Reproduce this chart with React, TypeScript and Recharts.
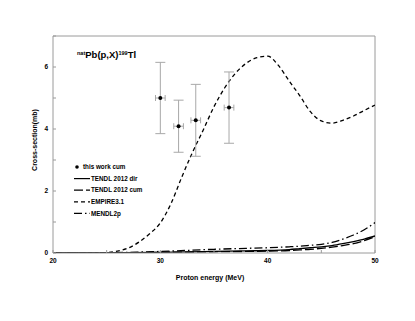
import {
  ComposedChart,
  Line,
  Scatter,
  ErrorBar,
  XAxis,
  YAxis,
  Legend,
  ReferenceLine,
} from "recharts";

const FONT = "'Liberation Sans', Arial, sans-serif";
const AXIS_GREY = "#9a9a9a";

// measured points, this work (cumulative)
const expEnergy = [30.0, 31.7, 33.3, 36.4];
const expValue = [5.0, 4.09, 4.28, 4.69];
const expErrY = [1.15, 0.84, 1.16, 1.15];
const expErrX = [0.45, 0.45, 0.45, 0.45];

// model curves
const empireEnergy = [20, 24, 25, 26, 27, 28, 29, 30, 31, 32, 33, 34, 35, 36, 37, 38, 39, 40, 41, 42, 43, 44, 45, 46, 47, 48, 49, 50];
const empireValue = [0, 0, 0.01, 0.06, 0.16, 0.35, 0.62, 0.97, 1.6, 2.45, 3.25, 3.97, 4.72, 5.33, 5.8, 6.12, 6.3, 6.35, 6.05, 5.55, 5.07, 4.55, 4.26, 4.19, 4.28, 4.42, 4.6, 4.77];

const lowEnergy = [20, 25, 30, 35, 38, 40, 42, 43, 44, 45, 46, 47, 48, 49, 50];
const tendlDir = [0, 0.005, 0.02, 0.05, 0.07, 0.08, 0.11, 0.14, 0.17, 0.2, 0.24, 0.3, 0.37, 0.45, 0.55];
const tendlCum = [0, 0.004, 0.02, 0.04, 0.05, 0.06, 0.08, 0.1, 0.12, 0.15, 0.19, 0.24, 0.3, 0.4, 0.52];
const mendl2p = [0, 0.01, 0.05, 0.12, 0.15, 0.17, 0.2, 0.22, 0.25, 0.28, 0.34, 0.45, 0.58, 0.75, 0.98];

const xTicks = [20, 25, 30, 35, 40, 45, 50];
const yTicks = [0, 1, 2, 3, 4, 5, 6, 7];

const expData = expEnergy.map((x, i) => ({ x, y: expValue[i], ey: expErrY[i], ex: expErrX[i] }));
const empireData = empireEnergy.map((x, i) => ({ x, v: empireValue[i] }));
const dirData = lowEnergy.map((x, i) => ({ x, v: tendlDir[i] }));
const cumData = lowEnergy.map((x, i) => ({ x, v: tendlCum[i] }));
const mendlData = lowEnergy.map((x, i) => ({ x, v: mendl2p[i] }));

const legendRows = [
  { label: "this work cum", dash: null },
  { label: "TENDL 2012 dir", dash: "" },
  { label: "TENDL 2012 cum", dash: "9 3" },
  { label: "EMPIRE3.1", dash: "4 3" },
  { label: "MENDL2p", dash: "8 3 1.5 3" },
];

const tickStyle = { fontSize: 6.5, fontWeight: 700, fill: "#000", fontFamily: FONT };

function LegendBox() {
  return (
    <svg width={70} height={60} style={{ display: "block" }}>
      {legendRows.map((r, i) => {
        const y = 4 + i * 11.6;
        return (
          <g key={r.label}>
            {r.dash === null ? (
              <circle cx={4} cy={y} r={1.8} fill="#000" />
            ) : (
              <line x1={1} x2={17} y1={y} y2={y} stroke="#000" strokeWidth={1.2} strokeDasharray={r.dash || undefined} />
            )}
            <text x={r.dash === null ? 10 : 18} y={y + 2.2} fontSize={6.3} fontWeight={700} fontFamily={FONT} fill="#000">
              {r.label}
            </text>
          </g>
        );
      })}
    </svg>
  );
}

function dot(props: any) {
  return <circle cx={props.cx} cy={props.cy} r={2} fill="#000" />;
}

export default function App() {
  return (
    <div style={{ position: "absolute", left: 0, top: 0, width: 415, height: 321, background: "#fff" }}>
      <ComposedChart width={415} height={321} margin={{ top: 36, right: 40, bottom: 48, left: 33 }}>
        <XAxis
          type="number"
          dataKey="x"
          domain={[20, 50]}
          ticks={xTicks}
          tickFormatter={(v) => (v % 10 === 0 ? String(v) : "")}
          allowDataOverflow
          height={20}
          stroke={AXIS_GREY}
          tickSize={-3}
          tickMargin={8}
          tick={tickStyle}
          label={{
            value: "Proton  energy (MeV)",
            position: "bottom",
            offset: 2,
            dx: -4,
            style: { fontSize: 7, fontWeight: 700, fill: "#000", fontFamily: FONT },
          }}
        />
        <YAxis
          type="number"
          domain={[0, 7]}
          ticks={yTicks}
          tickFormatter={(v) => (v % 2 === 0 ? String(v) : "")}
          allowDataOverflow
          width={20}
          stroke={AXIS_GREY}
          tickSize={-3}
          tickMargin={8}
          tick={tickStyle}
          label={{
            content: () => (
              <text
                x={35}
                y={140}
                transform="rotate(-90, 35, 140)"
                textAnchor="middle"
                dominantBaseline="middle"
                fontSize={7}
                fontWeight={700}
                fontFamily={FONT}
                fill="#000"
              >
                Cross-section(mb)
              </text>
            ),
          }}
        />
        <ReferenceLine y={7} stroke={AXIS_GREY} ifOverflow="visible" />
        <ReferenceLine x={50} stroke={AXIS_GREY} ifOverflow="visible" />

        <Line data={dirData} dataKey="v" name="TENDL 2012 dir" type="monotone" stroke="#000" strokeWidth={1.3} dot={false} isAnimationActive={false} />
        <Line data={cumData} dataKey="v" name="TENDL 2012 cum" type="monotone" stroke="#000" strokeWidth={1.3} strokeDasharray="9 3" dot={false} isAnimationActive={false} />
        <Line data={empireData} dataKey="v" name="EMPIRE3.1" type="monotone" stroke="#000" strokeWidth={1.3} strokeDasharray="4 3" dot={false} isAnimationActive={false} />
        <Line data={mendlData} dataKey="v" name="MENDL2p" type="monotone" stroke="#000" strokeWidth={1.3} strokeDasharray="8 3 1.5 3" dot={false} isAnimationActive={false} />

        <Scatter data={expData} dataKey="y" name="this work cum" shape={dot} isAnimationActive={false}>
          <ErrorBar dataKey="ey" direction="y" width={5} stroke="#a8a8a8" strokeWidth={1} />
          <ErrorBar dataKey="ex" direction="x" width={3} stroke="#a8a8a8" strokeWidth={1} />
        </Scatter>

        <Legend
          layout="horizontal"
          verticalAlign="middle"
          align="center"
          content={() => <LegendBox />}
          wrapperStyle={{ position: "absolute", left: 73, top: 163, width: 70 }}
        />

        <text x={77} y={58} fontSize={9.5} fontWeight={700} fontFamily={FONT} fill="#000">
          <tspan fontSize={5.5} dy={-3}>nat</tspan>
          <tspan dy={3}>Pb(p,X)</tspan>
          <tspan fontSize={5.5} dy={-3}>199</tspan>
          <tspan dy={3}>Tl</tspan>
        </text>
      </ComposedChart>
    </div>
  );
}
